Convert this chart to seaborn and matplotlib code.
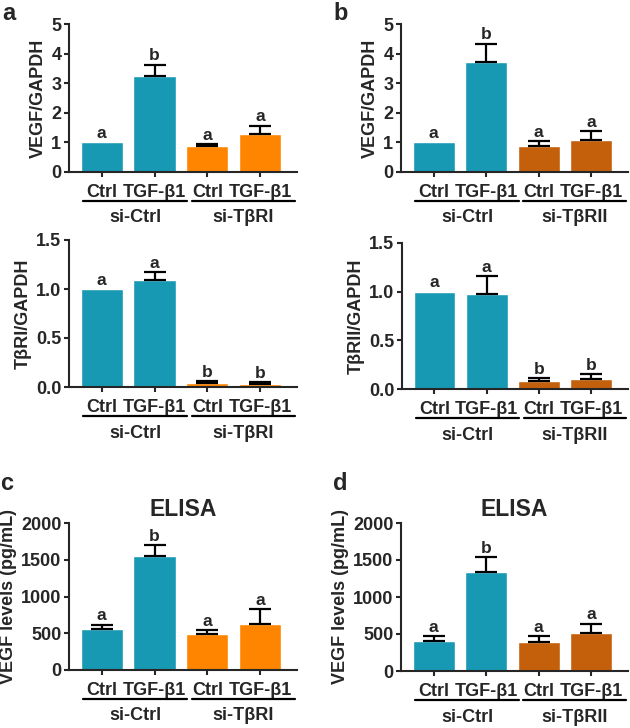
import numpy as np
import pandas as pd
import matplotlib
matplotlib.use("Agg")
import matplotlib.pyplot as plt
import matplotlib.transforms as mtransforms
import seaborn as sns

# ---------------- data ----------------
conditions = ["Ctrl", "TGF-β1", "Ctrl", "TGF-β1"]
groups_r1 = ["si-Ctrl", "si-Ctrl", "si-TβRI", "si-TβRI"]
groups_r2 = ["si-Ctrl", "si-Ctrl", "si-TβRII", "si-TβRII"]

vegf_a = [1.0, 3.25, 0.87, 1.28]
vegf_a_err = [0.0, 0.38, 0.06, 0.29]
vegf_a_sig = ["a", "b", "a", "a"]

vegf_b = [1.0, 3.72, 0.88, 1.07]
vegf_b_err = [0.0, 0.61, 0.17, 0.31]
vegf_b_sig = ["a", "b", "a", "a"]

tbr1 = [1.0, 1.09, 0.04, 0.035]
tbr1_err = [0.0, 0.08, 0.02, 0.015]
tbr1_sig = ["a", "a", "b", "b"]

tbr2 = [1.0, 0.98, 0.08, 0.10]
tbr2_err = [0.0, 0.18, 0.03, 0.05]
tbr2_sig = ["a", "a", "b", "b"]

elisa_c = [555, 1545, 490, 630]
elisa_c_err = [60, 155, 50, 200]
elisa_c_sig = ["a", "b", "a", "a"]

elisa_d = [405, 1335, 395, 520]
elisa_d_err = [65, 205, 75, 120]
elisa_d_sig = ["a", "b", "a", "a"]

TEAL = "#1899b3"
ORANGE = "#ff8500"
DARK_ORANGE = "#c4600c"

# ---------------- style ----------------
sns.set_style("ticks")
plt.rcParams["font.family"] = ["Liberation Sans", "DejaVu Sans"]
plt.rcParams["font.weight"] = "bold"
plt.rcParams["axes.labelweight"] = "bold"
plt.rcParams["axes.linewidth"] = 1.5

W, H = 630, 728
fig = plt.figure(figsize=(W / 100, H / 100), dpi=100)


def px_axes(left, top, right, bottom):
    return fig.add_axes([left / W, 1 - bottom / H, (right - left) / W, (bottom - top) / H])


def bar_panel(ax, values, errs, sig, groups, knock_color, ylim, yticks, ylabel,
              fmt="{:g}", title=None):
    keys = [f"{g}|{c}" for g, c in zip(groups, conditions)]
    df = pd.DataFrame({"key": keys, "value": values, "group": groups})
    pal = {groups[0]: TEAL, groups[2]: knock_color}
    sns.barplot(data=df, x="key", y="value", hue="group", palette=pal,
                dodge=False, width=0.8, legend=False, errorbar=None,
                saturation=1, ax=ax)
    x = np.arange(len(values))
    has_err = np.array(errs) > 0
    ax.errorbar(x[has_err], np.array(values)[has_err],
                yerr=[np.zeros(has_err.sum()), np.array(errs)[has_err]],
                fmt="none", ecolor="black", elinewidth=1.6, capsize=8, capthick=1.6)
    for xi, v, e, s in zip(x, values, errs, sig):
        ax.annotate(s, (xi, v + e), xytext=(0, 1), textcoords="offset points",
                    ha="center", va="bottom", fontsize=12.5, fontweight="bold")
    ax.set_xlim(-0.62, 3.7)
    ax.set_ylim(*ylim)
    ax.set_yticks(yticks, labels=[fmt.format(t) for t in yticks])
    ax.set_xticks(x, labels=conditions)
    ax.tick_params(axis="both", labelsize=13, width=1.5, length=3.5, pad=2)
    ax.tick_params(axis="x", pad=5)
    for lab in ax.get_xticklabels() + ax.get_yticklabels():
        lab.set_fontweight("bold")
    ax.set_xlabel("")
    ax.set_ylabel(ylabel, fontsize=13, fontweight="bold", labelpad=3)
    sns.despine(ax=ax)
    # group brackets under the tick labels
    line_tr = mtransforms.offset_copy(ax.get_xaxis_transform(), fig=fig, y=-29, units="dots")
    text_tr = mtransforms.offset_copy(ax.get_xaxis_transform(), fig=fig, y=-46, units="dots")
    for (x0, x1), name in [((-0.35, 1.62), groups[0]), ((1.71, 3.66), groups[2])]:
        ax.plot([x0, x1], [0, 0], color="black", lw=1.6, transform=line_tr,
                clip_on=False)
        ax.text((x0 + x1) / 2, 0, name, transform=text_tr, ha="center",
                va="center", fontsize=13, fontweight="bold")
    if title:
        ax.set_title(title, fontsize=16.5, fontweight="bold", pad=5)


ax_a = px_axes(69, 24, 297, 172)
bar_panel(ax_a, vegf_a, vegf_a_err, vegf_a_sig, groups_r1, ORANGE,
          (0, 5), [0, 1, 2, 3, 4, 5], "VEGF/GAPDH")
ax_b = px_axes(401, 24, 628, 172)
bar_panel(ax_b, vegf_b, vegf_b_err, vegf_b_sig, groups_r2, DARK_ORANGE,
          (0, 5), [0, 1, 2, 3, 4, 5], "VEGF/GAPDH")

ax_a2 = px_axes(69, 240, 297, 387)
bar_panel(ax_a2, tbr1, tbr1_err, tbr1_sig, groups_r1, ORANGE,
          (0, 1.5), [0, 0.5, 1.0, 1.5], "TβRI/GAPDH", fmt="{:.1f}")
ax_b2 = px_axes(402, 243, 628, 389)
bar_panel(ax_b2, tbr2, tbr2_err, tbr2_sig, groups_r2, DARK_ORANGE,
          (0, 1.5), [0, 0.5, 1.0, 1.5], "TβRII/GAPDH", fmt="{:.1f}")

ax_c = px_axes(69, 523, 297, 670)
bar_panel(ax_c, elisa_c, elisa_c_err, elisa_c_sig, groups_r1, ORANGE,
          (0, 2000), [0, 500, 1000, 1500, 2000], "VEGF levels (pg/mL)", title="ELISA")
ax_d = px_axes(401, 523, 628, 671)
bar_panel(ax_d, elisa_d, elisa_d_err, elisa_d_sig, groups_r2, DARK_ORANGE,
          (0, 2000), [0, 500, 1000, 1500, 2000], "VEGF levels (pg/mL)", title="ELISA")

# panel letters
for letter, xp, yp in [("a", 2, 13), ("b", 333, 13), ("c", 0, 484), ("d", 333, 484)]:
    fig.text(xp / W, 1 - yp / H, letter, fontsize=17, fontweight="bold",
             ha="left", va="center")

fig.savefig("out.png", dpi=100)
